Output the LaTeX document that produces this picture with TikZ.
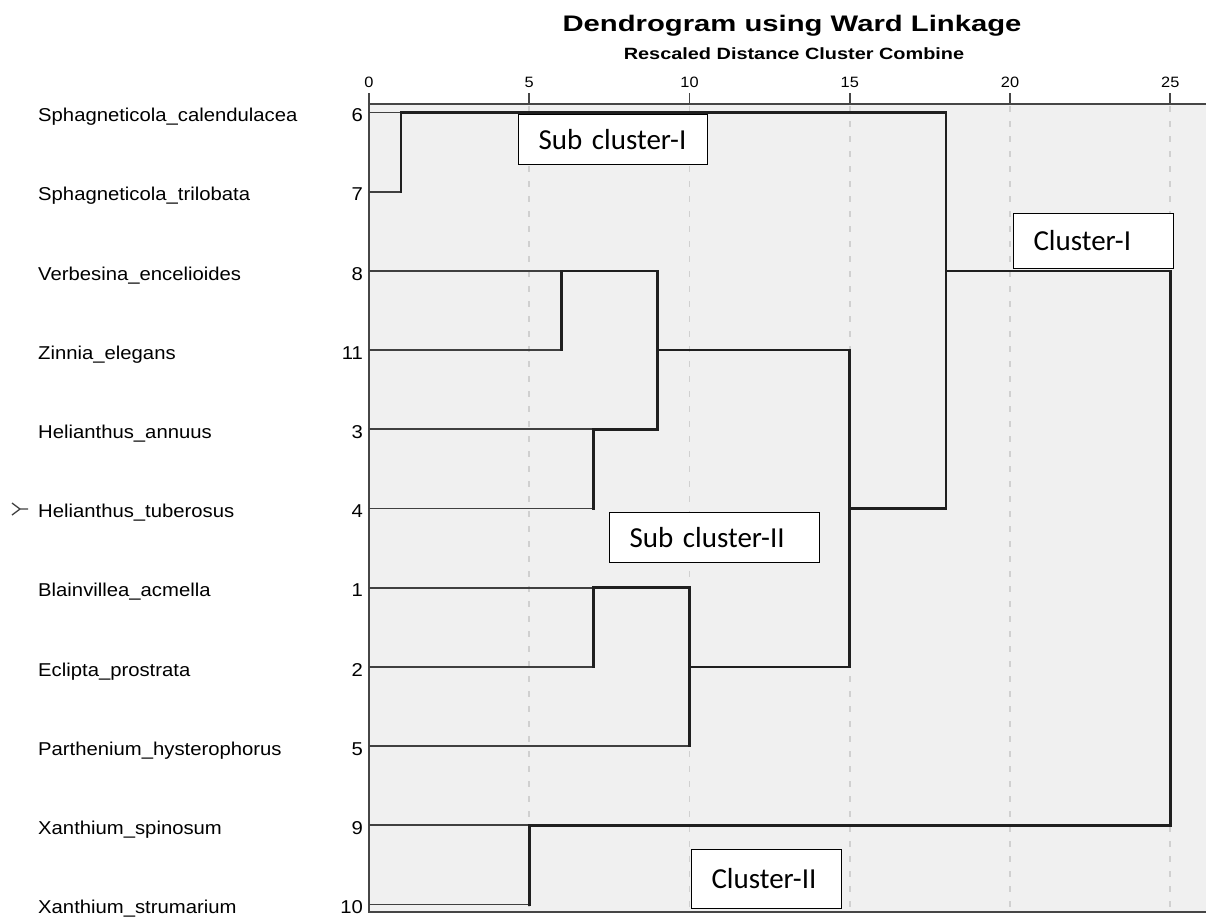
\documentclass[tikz,border=0pt]{standalone}
\usepackage{fontspec}
\setmainfont{Liberation Sans}
\newfontfamily\lblfont[FakeStretch=1.09]{Liberation Sans}
\newfontfamily\ttlfont[FakeStretch=1.3]{Liberation Sans}
\newfontfamily\subfont[FakeStretch=1.22]{Liberation Sans}
\newfontfamily\boxfont{Carlito}
\definecolor{plotbg}{HTML}{F0F0F0}
\definecolor{gridgray}{HTML}{D0D0D0}
\definecolor{axisgray}{HTML}{464646}
\begin{document}
\begin{tikzpicture}[x=1pt,y=-1pt,
  leaf/.style={draw=black!75,line width=1.9pt},
  merge/.style={draw=black!88,line width=2.6pt,line cap=rect},
  gridline/.style={draw=gridgray,line width=1.8pt,dash pattern=on 6pt off 9pt},
  axisline/.style={draw=axisgray,line width=1.8pt},
  species/.style={anchor=west,inner sep=0pt,text height=13.3pt,text depth=0pt,
    font=\lblfont\fontsize{18.6}{20}\selectfont},
  casenum/.style={anchor=east,inner sep=0pt,text height=13.3pt,text depth=0pt,
    font=\lblfont\fontsize{18.6}{20}\selectfont},
  ticklabel/.style={inner sep=0pt,text height=10.8pt,text depth=0pt,
    font=\lblfont\fontsize{15}{17}\selectfont},
  clusterbox/.style={draw=black,fill=white,line width=1pt,anchor=north west,
    inner xsep=20pt,inner ysep=0pt,align=left,
    font=\boxfont\fontsize{29}{32}\selectfont}]
\useasboundingbox (0,0) rectangle (1206,918);
% plot area
\fill[plotbg] (369,104) rectangle (1206,912);
\foreach \v in {5,10,...,25}
  \draw[gridline] ({369+32.05*\v},106) -- ({369+32.05*\v},912);
\foreach \v in {0,5,...,25} {
  \draw[axisline] ({369+32.05*\v},93) -- ({369+32.05*\v},104);
  \node[ticklabel] (t\v) at ({369+32.05*\v},82) {\v};
}
\draw[axisline] (369,104) -- (1206,104);
\draw[axisline] (369,93) -- (369,912) -- (1206,912);
% titles
\node[inner sep=0pt,text height=15.8pt,text depth=0pt,
  font=\ttlfont\bfseries\fontsize{22.5}{24}\selectfont] (title) at (792,24)
  {Dendrogram using Ward Linkage};
\node[inner sep=0pt,text height=11.7pt,text depth=0pt,
  font=\subfont\bfseries\fontsize{16.3}{18}\selectfont] (subtitle) at (794,54)
  {Rescaled Distance Cluster Combine};
% cases
\foreach \r/\n/\sp in {0/6/Sphagneticola\_calendulacea,1/7/Sphagneticola\_trilobata,
  2/8/Verbesina\_encelioides,3/11/Zinnia\_elegans,4/3/Helianthus\_annuus,
  5/4/Helianthus\_tuberosus,6/1/Blainvillea\_acmella,7/2/Eclipta\_prostrata,
  8/5/Parthenium\_hysterophorus,9/9/Xanthium\_spinosum,10/10/Xanthium\_strumarium} {
  \coordinate (l\n) at (369,{112.5+79.2*\r});
  \node[casenum] (n\n) at (363,{115+79.2*\r}) {\n};
  \node[species] (s\n) at (38,{115+79.2*\r}) {\sp};
}
\draw[draw=black!75,line width=1.3pt] (12,503) -- (20,509) -- (12,515) (20,509) -- (28,509);
% merge points
\path (l6) ++({32.05*1},0) coordinate (A);
\path (l8) ++({32.05*6},0) coordinate (B);
\path (l3) ++({32.05*7},0) coordinate (C);
\path (l11) ++({32.05*9},0) coordinate (D);
\path (l1) ++({32.05*7},0) coordinate (E);
\path (l2) ++({32.05*10},0) coordinate (F);
\path (l4) ++({32.05*15},0) coordinate (G);
\path (l8) ++({32.05*18},0) coordinate (H);
\path (l9) ++({32.05*5},0) coordinate (I);
\path (l9) ++({32.05*25},0) coordinate (J);
% dendrogram
\foreach \l/\m in {6/A,7/A,8/B,11/B,3/C,4/C,1/E,2/E,5/F,9/I,10/I}
  \draw[leaf] (l\l) -- (l\l -| \m);
\foreach \m/\a/\b/\p in {A/l6/l7/H,B/l8/l11/D,C/l3/l4/D,D/B/C/G,E/l1/l2/F,
  F/E/l5/G,G/D/F/H,H/A/G/J,I/l9/l10/J}
  \draw[merge] (\a -| \m) -- (\b -| \m) (\m) -- (\m -| \p);
\draw[merge] (H -| J) -- (I -| J);
% cluster labels
\node[clusterbox,text width=149pt,minimum height=50pt] (subI) at (518,114) {Sub cluster-I};
\node[clusterbox,text width=120pt,minimum height=55pt] (clI) at (1013,213) {Cluster-I};
\node[clusterbox,text width=170pt,minimum height=50pt] (subII) at (609,512) {Sub cluster-II};
\node[clusterbox,text width=110pt,minimum height=59pt] (clII) at (691,849) {Cluster-II};
\end{tikzpicture}
\end{document}
